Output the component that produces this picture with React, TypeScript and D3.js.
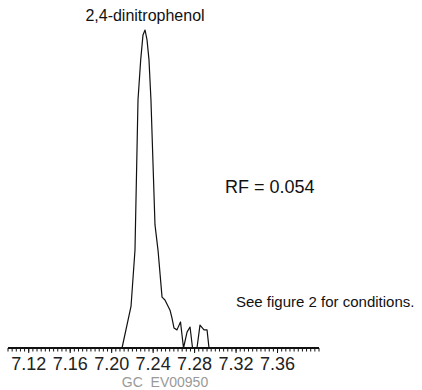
import React, { useEffect, useRef } from "react";
import * as d3 from "d3";

// retention time (min) and relative abundance
const times = [
  7.21, 7.2187, 7.2225, 7.2254, 7.228, 7.2302, 7.2322, 7.2341, 7.236, 7.2379,
  7.2418, 7.2447, 7.2486, 7.2514, 7.2563, 7.2582, 7.2601, 7.263, 7.2664, 7.2693,
  7.2727, 7.2756, 7.278, 7.2823, 7.2852, 7.2891, 7.292, 7.2939,
];
const abundance = [
  0, 13.2, 30.8, 78, 90.6, 98.4, 100, 96.9, 90.6, 78,
  38.7, 30.8, 16, 15.1, 11.9, 9.4, 6.3, 5.7, 8.2, 0,
  5, 6.6, 0, 0, 7.2, 5.7, 5.7, 0,
];
const majorTicks = [7.12, 7.16, 7.2, 7.24, 7.28, 7.32, 7.36];
const compound = "2,4-dinitrophenol";
const rfLabel = "RF = 0.054";
const note = "See figure 2 for conditions.";
const code = "GC  EV00950";

const App = () => {
  const svgRef = useRef<SVGSVGElement>(null);

  useEffect(() => {
    const svg = d3.select(svgRef.current);
    svg.selectAll("*").remove();
    const font = "'Liberation Sans Narrow', 'Liberation Sans', sans-serif";

    const x = d3.scaleLinear().domain([7.1, 7.4]).range([8, 319]);
    const y = d3.scaleLinear().domain([0, 100]).range([348, 30]);

    const pts = times.map((t, i) => ({ t, v: abundance[i] }));
    const line = d3
      .line<{ t: number; v: number }>()
      .x((d) => x(d.t))
      .y((d) => y(d.v));

    svg
      .append("path")
      .datum(pts)
      .attr("d", line)
      .attr("fill", "none")
      .attr("stroke", "#111")
      .attr("stroke-width", 1.2)
      .attr("stroke-linejoin", "round");

    // axis
    const axis = svg.append("g");
    axis
      .append("line")
      .attr("x1", 8)
      .attr("x2", 319)
      .attr("y1", 348)
      .attr("y2", 348)
      .attr("stroke", "#111")
      .attr("stroke-width", 2);

    const minor = d3.range(7.1, 7.4001, 0.004);
    axis
      .selectAll("line.minor")
      .data(minor)
      .enter()
      .append("line")
      .attr("x1", (d) => x(d))
      .attr("x2", (d) => x(d))
      .attr("y1", 348)
      .attr("y2", 351.5)
      .attr("stroke", "#111")
      .attr("stroke-width", 1);

    axis
      .selectAll("line.major")
      .data(majorTicks)
      .enter()
      .append("line")
      .attr("x1", (d) => x(d))
      .attr("x2", (d) => x(d))
      .attr("y1", 348)
      .attr("y2", 353)
      .attr("stroke", "#111")
      .attr("stroke-width", 1);

    axis
      .selectAll("text")
      .data(majorTicks)
      .enter()
      .append("text")
      .attr("x", (d) => x(d))
      .attr("y", 370)
      .attr("text-anchor", "middle")
      .style("font-family", font)
      .style("font-size", "18px")
      .attr("fill", "#222")
      .text((d) => d.toFixed(2));

    svg
      .append("text")
      .attr("x", 145)
      .attr("y", 21)
      .attr("text-anchor", "middle")
      .style("font-family", font)
      .style("font-size", "16px")
      .attr("fill", "#111")
      .text(compound);

    svg
      .append("text")
      .attr("x", 225)
      .attr("y", 193)
      .style("font-family", font)
      .style("font-size", "18px")
      .attr("fill", "#111")
      .text(rfLabel);

    svg
      .append("text")
      .attr("x", 236)
      .attr("y", 307)
      .style("font-family", font)
      .style("font-size", "15px")
      .attr("fill", "#111")
      .text(note);

    svg
      .append("text")
      .attr("x", 165)
      .attr("y", 387)
      .attr("text-anchor", "middle")
      .style("font-family", font)
      .style("font-size", "14px")
      .style("white-space", "pre")
      .attr("fill", "#999")
      .text(code);
  }, []);

  return (
    <svg
      ref={svgRef}
      width={422}
      height={390}
      style={{ position: "absolute", left: 0, top: 0, background: "#fff" }}
    />
  );
};

export default App;
